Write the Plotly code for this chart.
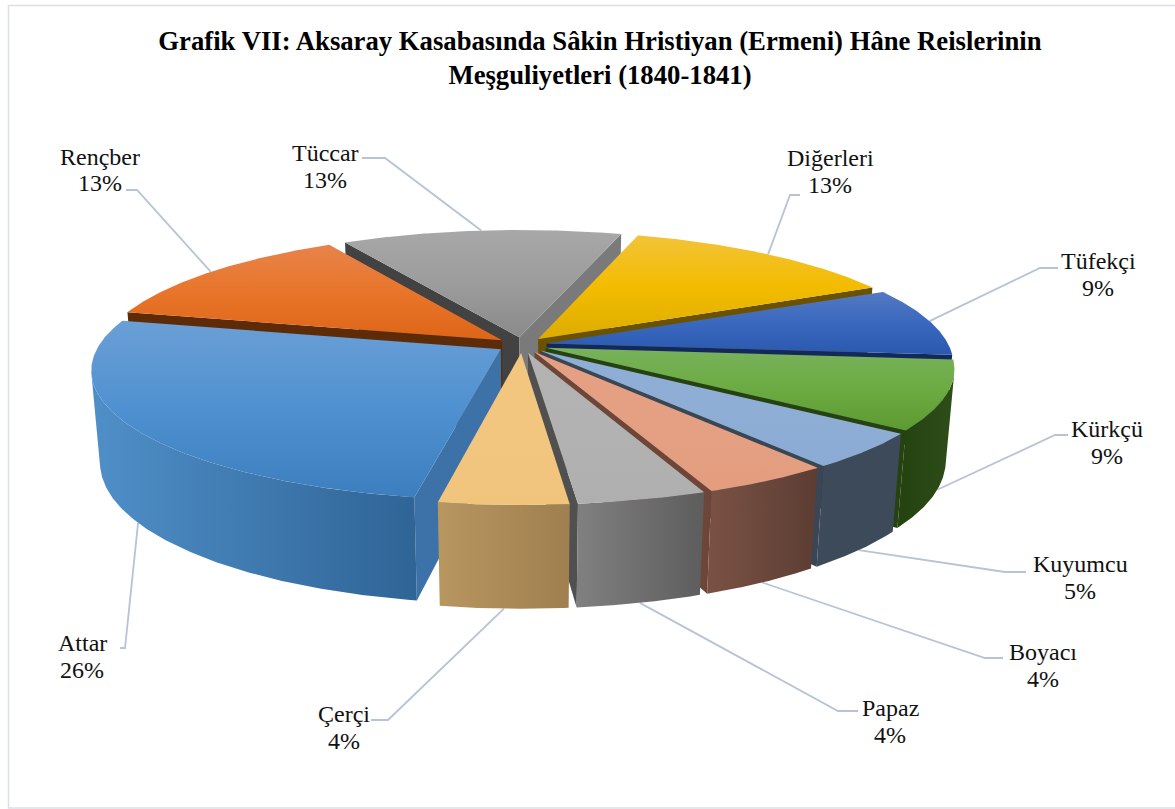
import numpy as np
import plotly.graph_objects as go

# ---------- data ----------
labels = ["Diğerleri", "Tüfekçi", "Kürkçü", "Kuyumcu", "Boyacı", "Papaz", "Çerçi", "Attar", "Rençber", "Tüccar"]
values = [13.0, 8.7, 8.7, 4.5, 4.4, 4.4, 4.4, 26.0, 13.0, 13.0]
title_text = "Grafik VII: Aksaray Kasabasında Sâkin Hristiyan (Ermeni) Hâne Reislerinin<br>Meşguliyetleri (1840-1841)"

# ---------- styles: one per slice, same order as labels (first colour = upper edge) ----------
top_colors = [
    ["#f2c338", "#f3bc00", "#dcac02"], ["#5379c0", "#3a68bf", "#2a58ae"], ["#78b25c", "#6cab42", "#5d9b32"],
    ["#8faed6", "#8faed6", "#8cabd4"], ["#e5a083", "#e5a083", "#e39c7e"], ["#b3b3b3", "#b2b2b2", "#afafaf"],
    ["#f3c680", "#f3c680", "#f1c47c"], ["#6b9fd6", "#4f91d0", "#3d7fbe"], ["#e8834b", "#e8752a", "#de6518"],
    ["#a8a8a8", "#9c9c9c", "#8a8a8a"],
]
rim_colors = [
    ["#8a6c00", "#6b5200"], ["#1d3d7a", "#13295c"], ["#24420f", "#2e4d19"], ["#3c4a5a", "#3c4a5a"],
    ["#7a5244", "#5c3d33"], ["#808080", "#5d5d5d"], ["#b89660", "#a07f50"], ["#4f8fc8", "#2f6496"],
    ["#8a4a1c", "#6b3510"], ["#7a7a7a", "#5c5c5c"],
]
start_faces = ["#8a6c00", "#1d3d7a", "#24420f", "#3c4a5a", "#6e4638", "#5c5c5c", "#a07f50", "#3c72a8", "#5e2b09", "#424242"]
end_faces = ["#6b5200", "#13295c", "#26420f", "#3a4655", "#6e4638", "#505050", "#a07f50", "#2f6496", "#5e2b09", "#7a7a7a"]

# ---------- projection settings (pixel canvas) ----------
W, H = 1175, 809
CX, CY = 522, 345
RX, KY, HZ = 402, 126, 92
PERSP_Y, PERSP_Z = 0.154, 0.02
EXPLODE = 0.0625
START_ANGLE = 17.0


def project(x, y, z):
    s = 1 / (1 + PERSP_Y * y + PERSP_Z * z)
    return CX + RX * x * s, CY - KY * y * s + HZ * z * s


def signed_area(xs, ys):
    xs, ys = np.asarray(xs), np.asarray(ys)
    return np.sum(xs * np.roll(ys, -1) - np.roll(xs, -1) * ys)


# label layout: centre x, y of first line, y of second line, start of leader, elbow
label_pos = {
    "Rençber": (100, 157, 183, (126, 190), (137, 190)),
    "Tüccar": (325, 153, 180, (362, 158), (385, 158)),
    "Diğerleri": (830, 158, 185, (800, 195), (790, 195)),
    "Tüfekçi": (1098, 261, 288, (1058, 268), (1040, 268)),
    "Kürkçü": (1107, 429, 456, (1068, 435), (1055, 435)),
    "Kuyumcu": (1080, 564, 591, (1026, 572), (1005, 572)),
    "Boyacı": (1043, 652, 679, (1003, 658), (985, 658)),
    "Papaz": (890, 708, 735, (858, 711), (838, 711)),
    "Çerçi": (344, 714, 741, (371, 720), (388, 720)),
    "Attar": (82, 643, 670, (120, 648), (125, 648)),
}

fig = go.Figure()


def polygon(xs, ys, colors, kind, name):
    scale = [[i / (len(colors) - 1), c] for i, c in enumerate(colors)]
    fig.add_trace(go.Scatter(
        x=list(xs), y=list(ys), mode="lines", fill="toself", line=dict(width=0),
        fillgradient=dict(type=kind, colorscale=scale),
        hoverinfo="skip", showlegend=False, name=name,
    ))


total = sum(values)
edges = START_ANGLE + np.cumsum([0] + values) * 360 / total
slices = []
for i, lab in enumerate(labels):
    a0, a1 = np.radians(edges[i]), np.radians(edges[i + 1])
    mid = (a0 + a1) / 2
    slices.append((i, lab, a0, a1, mid, EXPLODE * np.sin(mid), EXPLODE * np.cos(mid)))

# leader lines sit behind the pie and end at each slice's mid-angle on its rim
for i, lab, a0, a1, mid, ox, oy in slices:
    x = ox + np.sin(mid)
    y = oy + np.cos(mid)
    z = 1.0 if np.cos(mid) < 0 else 0.0
    ax, ay = project(x, y, z)
    _, _, _, p0, p1 = label_pos[lab]
    fig.add_trace(go.Scatter(
        x=[p0[0], p1[0], ax], y=[p0[1], p1[1], ay], mode="lines",
        line=dict(color="#b7c3d6", width=1.8), hoverinfo="skip", showlegend=False,
    ))

# painter's order: back slices first; faces turned away from the viewer are skipped
for i, lab, a0, a1, mid, ox, oy in sorted(slices, key=lambda s: -np.cos(s[4])):
    t = np.linspace(a0, a1, 160)
    ux, uy = ox + np.sin(t), oy + np.cos(t)
    # cut faces
    for ang, col, sign in ((a0, start_faces[i], -1), (a1, end_faces[i], 1)):
        ex, ey = ox + np.sin(ang), oy + np.cos(ang)
        pts = [project(ox, oy, 0), project(ex, ey, 0), project(ex, ey, 1), project(ox, oy, 1)]
        px, py = [p[0] for p in pts], [p[1] for p in pts]
        if signed_area(px, py) * sign <= 0:
            continue
        fig.add_trace(go.Scatter(
            x=px + px[:1], y=py + py[:1], mode="lines", fill="toself",
            line=dict(width=0), fillcolor=col, hoverinfo="skip", showlegend=False, name=lab,
        ))
    # outer rim: only the part that faces the viewer
    tx, ty = project(ux, uy, 0)
    bx, by = project(ux, uy, 1)
    seg = np.array([signed_area([tx[j], tx[j + 1], bx[j + 1], bx[j]], [ty[j], ty[j + 1], by[j + 1], by[j]]) < 0
                    for j in range(len(t) - 1)])
    if seg.any():
        idx = np.flatnonzero(seg)
        j0, j1 = idx[0], idx[-1] + 2
        polygon(np.r_[tx[j0:j1], bx[j0:j1][::-1], tx[j0]], np.r_[ty[j0:j1], by[j0:j1][::-1], ty[j0]],
                rim_colors[i], "horizontal", lab)
    # top surface: gradient runs bottom-to-top on screen, so the upper-edge colour goes last
    ax, ay = project(ox, oy, 0)
    polygon(np.r_[ax, tx, ax], np.r_[ay, ty, ay], top_colors[i][::-1], "vertical", lab)

# data labels, one annotation per line
for lab, val in zip(labels, values):
    cx, y1, y2, _, _ = label_pos[lab]
    for txt, yy in ((lab, y1), (f"{int(val + 0.5)}%", y2)):
        fig.add_annotation(x=cx, y=yy, text=txt, showarrow=False, xanchor="center", yanchor="middle",
                           font=dict(family="Liberation Serif", size=24, color="#111111"))

fig.update_layout(
    width=W, height=H, margin=dict(l=0, r=0, t=0, b=0),
    paper_bgcolor="white", plot_bgcolor="white", showlegend=False,
    title=dict(text=title_text, x=600 / W, xanchor="center", y=0.9387, yanchor="middle",
               font=dict(family="Liberation Serif", size=26.7, color="#000000", weight="bold")),
    xaxis=dict(range=[0, W], visible=False, fixedrange=True),
    yaxis=dict(range=[H, 0], visible=False, fixedrange=True),
    shapes=[dict(type="rect", x0=8.5, y0=5.5, x1=W + 10, y1=808,
                 line=dict(color="#d9dfe8", width=1.5), layer="below")],
)

fig.write_html("out.html", config=dict(displayModeBar=False),
               post_script="document.body.style.margin='0';document.documentElement.style.overflow='hidden';")
